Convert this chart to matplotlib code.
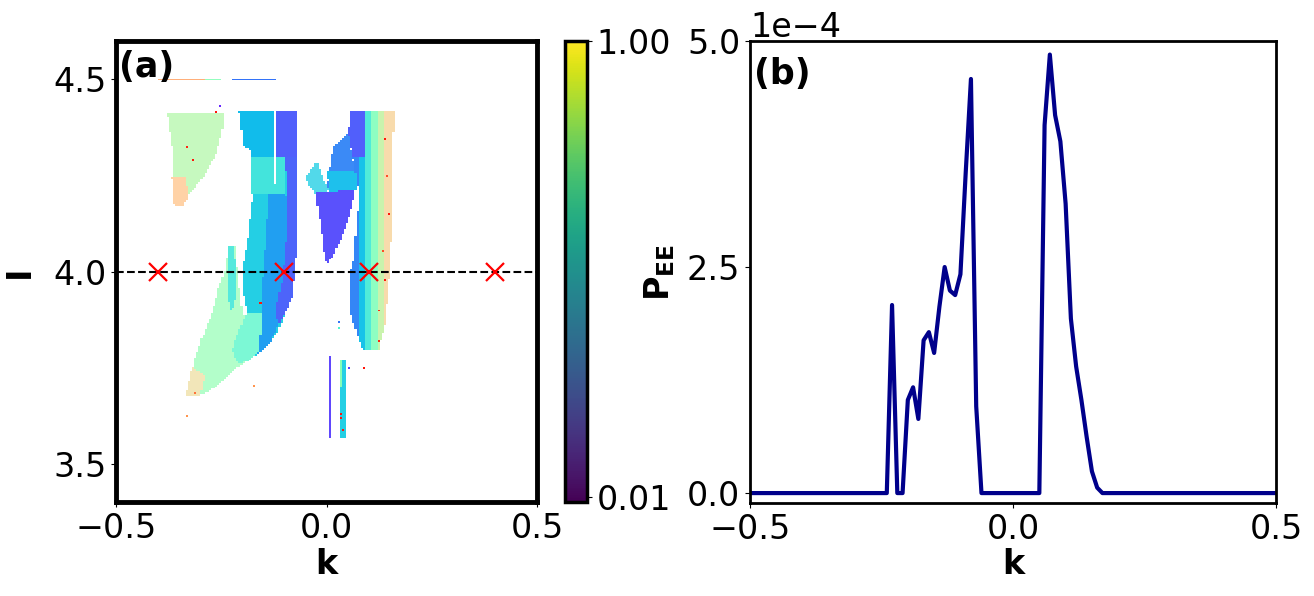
import numpy as np
import matplotlib
matplotlib.use("Agg")
import matplotlib.pyplot as plt
from matplotlib.path import Path
from matplotlib.colors import Normalize
from matplotlib.cm import ScalarMappable

# ---------------- panel (b) data ----------------
k_b = np.round(np.linspace(-0.5, 0.5, 101), 2)
p_ee_1e4 = [0.0] * 27 + [
    2.08, 0.0, 0.0, 1.03, 1.17, 0.82, 1.69, 1.78, 1.55, 2.06,
    2.50, 2.24, 2.19, 2.42, 3.54, 4.58, 0.96] + [0.0] * 12 + [
    4.07, 4.85, 4.18, 3.89, 3.20, 1.93, 1.40, 1.03, 0.62, 0.24,
    0.06] + [0.0] * 34
p_ee = np.array(p_ee_1e4) * 1e-4

# ---------------- panel (a) data: regions ----------------
tri_k = [-0.379, -0.246, -0.248, -0.265, -0.293, -0.317, -0.348, -0.360, -0.367]
tri_I = [4.411, 4.411, 4.359, 4.297, 4.245, 4.211, 4.172, 4.172, 4.320]
tri_orange_k = [-0.368, -0.335, -0.330, -0.345, -0.362]
tri_orange_I = [4.245, 4.245, 4.190, 4.168, 4.168]

fringe_k = [-0.234, -0.217, -0.205, -0.189, -0.163, -0.210, -0.241, -0.265,
            -0.300, -0.324, -0.331, -0.312, -0.296, -0.272, -0.258, -0.241]
fringe_I = [4.063, 4.063, 3.924, 3.846, 3.786, 3.750, 3.724, 3.698,
            3.677, 3.677, 3.690, 3.776, 3.828, 3.891, 3.951, 4.003]
fringe_tip_k = [-0.335, -0.300, -0.290, -0.320]
fringe_tip_I = [3.675, 3.675, 3.730, 3.750]

band_k = [-0.208, -0.072, -0.068, -0.068, -0.075, -0.082, -0.099, -0.115,
          -0.134, -0.163, -0.186, -0.210, -0.224, -0.210, -0.189, -0.201,
          -0.198, -0.189, -0.177, -0.177, -0.182, -0.198]
band_I = [4.417, 4.417, 4.185, 4.107, 3.997, 3.932, 3.891, 3.846,
          3.813, 3.786, 3.768, 3.758, 3.794, 3.846, 3.891, 3.951,
          4.021, 4.073, 4.185, 4.250, 4.315, 4.323]
band_low_k = [-0.224, -0.210, -0.189, -0.146, -0.139, -0.186, -0.210]
band_low_I = [3.794, 3.846, 3.891, 3.891, 3.808, 3.768, 3.758]
band_row_k = [-0.180, -0.100, -0.100, -0.180]
band_row_I = [4.294, 4.294, 4.200, 4.200]
band_topleft_k = [-0.208, -0.125, -0.125, -0.182, -0.182, -0.198]
band_topleft_I = [4.417, 4.417, 4.294, 4.294, 4.315, 4.323]
band_topright_k = [-0.120, -0.072, -0.072, -0.120]
band_topright_I = [4.417, 4.417, 4.294, 4.294]
band_blue_k = [-0.134, -0.099, -0.094, -0.097, -0.106, -0.122, -0.115, -0.134,
               -0.163, -0.153, -0.153, -0.144, -0.139]
band_blue_I = [4.200, 4.200, 4.185, 4.081, 3.976, 3.898, 3.859, 3.813,
               3.786, 3.872, 3.976, 4.107, 4.200]
band_purple_k = [-0.099, -0.070, -0.068, -0.075, -0.082, -0.099, -0.115,
                 -0.122, -0.106, -0.097, -0.094]
band_purple_I = [4.294, 4.294, 4.107, 3.997, 3.932, 3.891, 3.859,
                 3.898, 3.976, 4.081, 4.185]
band_gap_k = [-0.126, -0.120, -0.120, -0.126]
band_gap_I = [4.417, 4.417, 4.224, 4.224]
sliver_k = [-0.234, -0.218, -0.216, -0.226, -0.236]
sliver_I = [4.063, 4.063, 3.930, 3.895, 3.930]

varm_l_k = [-0.051, -0.023, -0.004, 0.015, -0.027, -0.045]
varm_l_I = [4.245, 4.284, 4.224, 4.211, 4.200, 4.225]
varm_r_k = [0.015, 0.051, 0.060, 0.072, 0.068, 0.008, 0.000]
varm_r_I = [4.320, 4.359, 4.300, 4.229, 4.211, 4.198, 4.220]
varm_r_low_k = [0.000, 0.072, 0.068, 0.008]
varm_r_low_I = [4.260, 4.260, 4.211, 4.198]
vbody_k = [-0.027, 0.068, 0.056, 0.032, 0.013, -0.001, -0.008, -0.015]
vbody_I = [4.203, 4.211, 4.151, 4.081, 4.037, 4.016, 4.055, 4.115]

rband_k = [0.056, 0.158, 0.156, 0.151, 0.144, 0.139, 0.127, 0.122, 0.084,
           0.068, 0.056, 0.056, 0.063, 0.075, 0.072, 0.051]
rband_I = [4.417, 4.417, 4.185, 4.029, 3.932, 3.867, 3.820, 3.794, 3.794,
           3.846, 3.891, 3.997, 4.029, 4.185, 4.229, 4.359]
# column profile inside the right band
rcol_edges = [0.040, 0.075, 0.090, 0.105, 0.120, 0.135, 0.165]
rcol_val = [0.17, 0.27, 0.37, 0.49, 0.61, 0.73]
rcol_den = [0.95, 0.95, 0.90, 0.85, 0.75, 0.55]
rtop_k = [0.050, 0.090, 0.090, 0.050]
rtop_I = [4.417, 4.417, 4.294, 4.294]

strip_lines = {  # name: (k0, k1, I0, I1, value, density)
    "top_left": (-0.400, -0.290, 4.495, 4.501, 0.80, 0.75),
    "top_mid": (-0.290, -0.248, 4.495, 4.501, 0.50, 0.85),
    "top_right": (-0.224, -0.118, 4.495, 4.501, 0.15, 1.00),
    "purple_line": (0.003, 0.008, 3.565, 3.780, 0.08, 0.95),
    "cyan_strip": (0.032, 0.046, 3.565, 3.768, 0.30, 0.95),
    "cyan_strip_edge": (0.032, 0.036, 3.700, 3.768, 0.50, 0.95),
}

dot_k = [-0.251, -0.331, -0.317, -0.260, -0.331, -0.312, -0.155, 0.139,
         0.146, 0.134, 0.137, 0.122, 0.089, 0.051, 0.027, 0.027,
         0.034, 0.034, 0.036, -0.170, 0.125, 0.145]
dot_I = [4.427, 4.323, 4.289, 4.410, 3.620, 3.682, 3.917, 4.341,
         4.146, 4.055, 3.980, 3.820, 3.747, 3.747, 3.867, 3.852,
         3.630, 3.617, 3.586, 3.700, 3.900, 4.250]
dot_val = [0.05, 0.95, 0.97, 0.97, 0.80, 0.85, 0.97, 0.97,
           0.97, 0.90, 0.97, 0.95, 0.97, 0.08, 0.15, 0.40,
           0.97, 0.97, 0.97, 0.80, 0.95, 0.90]

mark_k = [-0.4, -0.1, 0.1, 0.4]
mark_I = [4.0, 4.0, 4.0, 4.0]

# ---------------- rasterise regions ----------------
k_edges = np.linspace(-0.5, 0.5, 201)
I_edges = np.linspace(3.4, 4.6, 241)
kc = 0.5 * (k_edges[:-1] + k_edges[1:])
Ic = 0.5 * (I_edges[:-1] + I_edges[1:])
KK, II = np.meshgrid(kc, Ic)
pts = np.column_stack([KK.ravel(), II.ravel()])
val = np.full(KK.shape, np.nan)
den = np.zeros(KK.shape)


def poly_mask(ks, Is):
    return Path(np.column_stack([ks, Is])).contains_points(pts).reshape(KK.shape)


def paint(mask, v, d):
    if np.isnan(v):
        val[mask] = np.nan
        den[mask] = 0
    else:
        val[mask] = v
        den[mask] = d


layers = [
    (tri_k, tri_I, 0.58, 0.65),
    (tri_orange_k, tri_orange_I, 0.76, 0.55),
    (fringe_k, fringe_I, 0.52, 0.65),
    (fringe_tip_k, fringe_tip_I, 0.70, 0.50),
    (band_k, band_I, 0.30, 0.95),
    (band_low_k, band_low_I, 0.42, 0.78),
    (band_row_k, band_row_I, 0.35, 0.92),
    (band_topleft_k, band_topleft_I, 0.26, 0.95),
    (band_blue_k, band_blue_I, 0.21, 0.95),
    (band_topright_k, band_topright_I, 0.11, 0.95),
    (band_purple_k, band_purple_I, 0.12, 0.95),
    (band_gap_k, band_gap_I, np.nan, 0.0),
    (sliver_k, sliver_I, 0.36, 0.85),
    (varm_l_k, varm_l_I, 0.30, 0.75),
    (varm_r_k, varm_r_I, 0.17, 0.92),
    (varm_r_low_k, varm_r_low_I, 0.26, 0.90),
    (vbody_k, vbody_I, 0.09, 0.95),
]
for ks, Is, v, d in layers:
    paint(poly_mask(ks, Is), v, d)

rmask = poly_mask(rband_k, rband_I)
for j in range(len(rcol_val)):
    m = rmask & (KK >= rcol_edges[j]) & (KK < rcol_edges[j + 1])
    paint(m, rcol_val[j], rcol_den[j])
paint(rmask & poly_mask(rtop_k, rtop_I), 0.11, 0.95)

for name, (k0, k1, i0, i1, v, d) in strip_lines.items():
    m = (KK >= k0) & (KK <= k1) & (II >= i0) & (II <= i1)
    paint(m, v, d)

for kd, idd, v in zip(dot_k, dot_I, dot_val):
    ci = np.argmin(np.abs(kc - kd))
    ri = np.argmin(np.abs(Ic - idd))
    val[ri, ci] = v
    den[ri, ci] = 1.0

cmap_pts = plt.get_cmap("rainbow")
rgba = cmap_pts(np.nan_to_num(val, nan=0.0))
rgba[..., 3] = np.where(np.isnan(val), 0.0, den)

# ---------------- figure ----------------
plt.rcParams["font.family"] = ["DejaVu Sans"]
fig = plt.figure(figsize=(13.14, 5.96), dpi=100)
FS = 24

ax1 = fig.add_axes([0.0883, 0.1577, 0.3204, 0.7735])
ax1.imshow(rgba, extent=(-0.5, 0.5, 3.4, 4.6), origin="lower",
           aspect="auto", interpolation="nearest")
ax1.axhline(4.0, color="black", linestyle="--", linewidth=1.5)
ax1.plot(mark_k, mark_I, linestyle="none", marker="x", color="red",
         markersize=13, markeredgewidth=1.6)
ax1.set_xlim(-0.5, 0.5)
ax1.set_ylim(3.4, 4.6)
ax1.set_xticks([-0.5, 0.0, 0.5])
ax1.set_yticks([3.5, 4.0, 4.5])
ax1.tick_params(labelsize=FS)
for sp in ax1.spines.values():
    sp.set_linewidth(3.5)
ax1.set_xlabel("k", fontsize=FS, fontweight="bold")
ax1.set_ylabel("I", fontsize=FS, fontweight="bold")
ax1.xaxis.set_label_coords(0.5, -0.10)
ax1.yaxis.set_label_coords(-0.19, 0.5)
ax1.text(0.008, 0.98, "(a)", transform=ax1.transAxes, fontsize=25,
         fontweight="bold", ha="left", va="top")

cax = fig.add_axes([0.4300, 0.1577, 0.0167, 0.7735])
sm = ScalarMappable(norm=Normalize(0, 1), cmap="viridis")
cb = fig.colorbar(sm, cax=cax, ticks=[0.01, 1.0])
cb.ax.set_yticklabels(["0.01", "1.00"])
cb.ax.tick_params(labelsize=FS)
cb.outline.set_linewidth(2.5)

ax2 = fig.add_axes([0.5708, 0.1560, 0.4003, 0.7752])
ax2.plot(k_b, p_ee, color="darkblue", linewidth=3)
ax2.set_xlim(-0.5, 0.5)
ax2.set_ylim(-1.1e-5, 5e-4)
ax2.set_xticks([-0.5, 0.0, 0.5])
ax2.set_yticks([0, 2.5e-4, 5e-4])
ax2.ticklabel_format(axis="y", style="sci", scilimits=(0, 0))
ax2.tick_params(labelsize=FS)
ax2.yaxis.get_offset_text().set_fontsize(FS)
for sp in ax2.spines.values():
    sp.set_linewidth(2)
ax2.set_xlabel("k", fontsize=FS, fontweight="bold")
ax2.set_ylabel(r"$\mathbf{P_{EE}}$", fontsize=FS, fontweight="bold")
ax2.xaxis.set_label_coords(0.5, -0.097)
ax2.yaxis.set_label_coords(-0.139, 0.5)
ax2.text(0.008, 0.965, "(b)", transform=ax2.transAxes, fontsize=25,
         fontweight="bold", ha="left", va="top")

fig.savefig("out.png", dpi=100)
